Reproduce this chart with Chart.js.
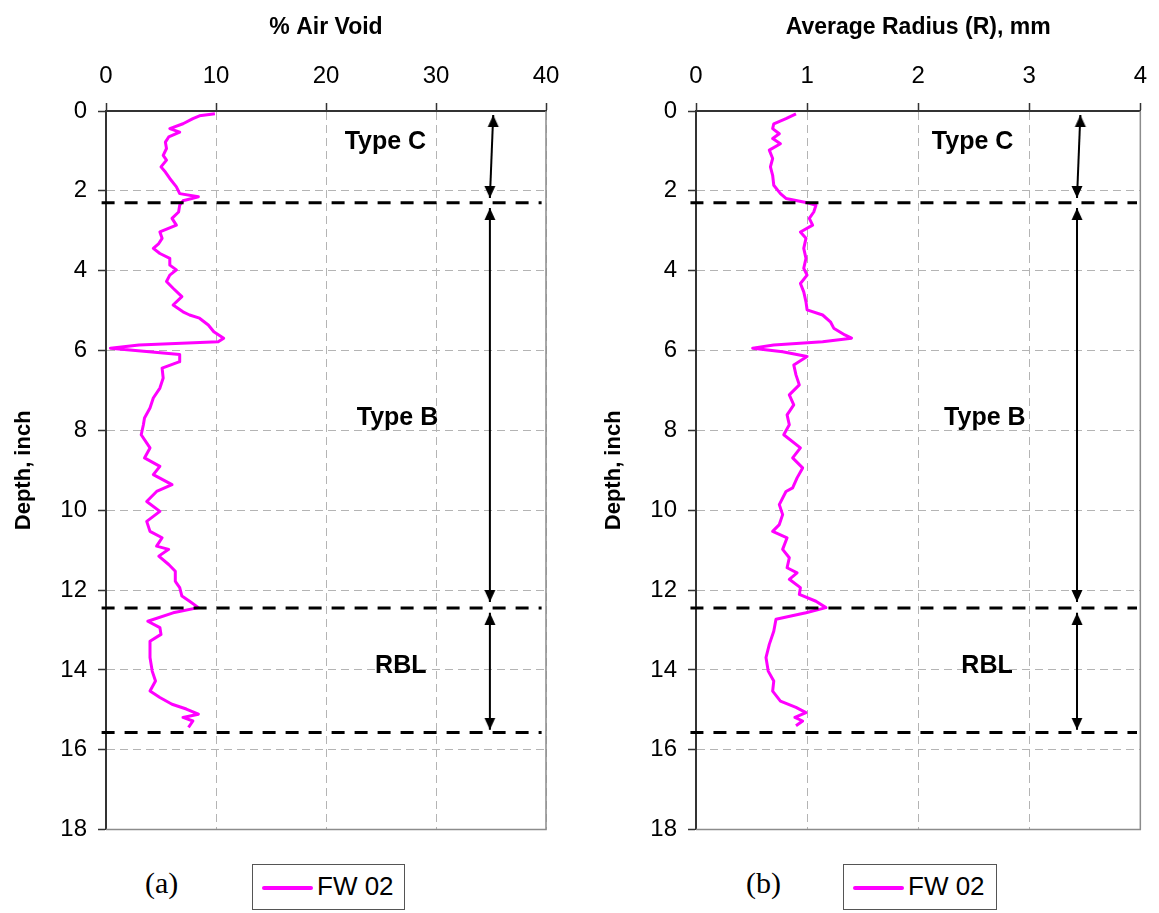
<!DOCTYPE html>
<html>
<head>
<meta charset="utf-8">
<script src="https://cdn.jsdelivr.net/npm/chart.js@4.4.0/dist/chart.umd.min.js"></script>
<style>
  body { margin: 0; width: 1159px; height: 913px; position: relative; background: #fff; overflow: hidden; }
  .panel { position: absolute; top: 0; }
  .caption { position: absolute; top: 866px; font-family: "Liberation Serif", "Times New Roman", serif; font-size: 30px; color: #000; }
  .legend { position: absolute; top: 864px; height: 46px; border: 1px solid #555; box-sizing: border-box;
            font-family: "Liberation Sans", Arial, sans-serif; font-size: 26px; color: #000; }
  .legend .swatch { position: absolute; left: 9px; top: 21px; width: 51px; height: 4px; background: #ff00ff; border-radius: 2px; }
  .legend .lbl { position: absolute; left: 64px; top: 6px; }
</style>
</head>
<body>
<div class="panel" style="left:0"><canvas id="chartA" width="580" height="855"></canvas></div>
<div class="panel" style="left:590px"><canvas id="chartB" width="569" height="855"></canvas></div>
<div class="caption" style="left:145px">(a)</div>
<div class="legend" style="left:252px; width:153px"><span class="swatch"></span><span class="lbl">FW 02</span></div>
<div class="caption" style="left:746px">(b)</div>
<div class="legend" style="left:843px; width:154px"><span class="swatch"></span><span class="lbl">FW 02</span></div>
<script>
// panel (a): % air void vs depth
var depthA = [0.07, 0.12, 0.19, 0.32, 0.44, 0.53, 0.65, 0.78, 0.94, 1.11, 1.23, 1.4, 1.53, 1.69, 1.9, 2.07, 2.15, 2.25, 2.36, 2.53,
    2.69, 2.86, 3.03, 3.19, 3.32, 3.44, 3.57, 3.69, 3.86, 3.98, 4.11, 4.27, 4.44, 4.65, 4.86, 5.03, 5.11, 5.19, 5.36, 5.53,
    5.69, 5.78, 5.86, 5.94, 6.1, 6.28, 6.44, 6.69, 6.94, 7.19, 7.44, 7.69, 7.86, 8.11, 8.44, 8.69, 8.9, 9.11, 9.36, 9.53,
    9.78, 10.03, 10.28, 10.53, 10.69, 10.9, 10.98, 11.15, 11.36, 11.53, 11.78, 11.94, 12.15, 12.28, 12.44, 12.57, 12.78, 12.94, 13.11, 13.28,
    13.69, 14.03, 14.28, 14.53, 14.69, 14.86, 14.98, 15.11, 15.19, 15.28, 15.44];
var airVoid = [9.9, 8.5, 7.9, 7.0, 5.8, 6.7, 5.7, 5.4, 5.5, 5.2, 5.5, 5.0, 5.4, 5.8, 6.4, 6.7, 8.4, 7.0, 6.7, 6.6,
    6.0, 6.4, 4.9, 5.1, 4.8, 4.3, 4.9, 5.8, 5.8, 6.4, 5.8, 5.5, 6.1, 6.9, 6.1, 7.0, 7.6, 8.5, 9.3, 9.8,
    10.7, 10.2, 3.0, 0.4, 6.7, 6.7, 5.1, 5.2, 4.9, 4.3, 4.0, 3.5, 3.4, 3.2, 4.0, 3.5, 4.9, 4.3, 6.0, 4.6,
    3.7, 4.9, 3.7, 4.0, 5.1, 4.6, 5.7, 4.8, 5.7, 6.3, 6.3, 6.7, 6.9, 7.6, 8.4, 6.1, 3.8, 4.9, 5.0, 4.0,
    4.0, 4.2, 4.5, 4.0, 4.9, 6.0, 7.3, 8.4, 7.0, 7.9, 7.5];

// panel (b): average radius vs depth
var depthB = [0.07, 0.19, 0.32, 0.44, 0.57, 0.69, 0.82, 0.98, 1.19, 1.4, 1.61, 1.86, 2.07, 2.19, 2.29, 2.36, 2.53, 2.69, 2.86, 3.03,
    3.19, 3.44, 3.69, 3.94, 4.11, 4.32, 4.53, 4.78, 4.98, 5.11, 5.28, 5.44, 5.61, 5.69, 5.78, 5.86, 5.94, 6.03, 6.15, 6.36,
    6.61, 6.86, 7.11, 7.36, 7.61, 7.86, 8.11, 8.44, 8.69, 8.94, 9.19, 9.44, 9.53, 9.86, 10.11, 10.36, 10.53, 10.69, 10.98, 11.19,
    11.44, 11.57, 11.73, 11.94, 12.11, 12.28, 12.44, 12.57, 12.73, 13.03, 13.36, 13.69, 14.03, 14.28, 14.53, 14.78, 14.94, 15.07, 15.19, 15.28,
    15.4];
var avgRadius = [0.90, 0.81, 0.70, 0.69, 0.75, 0.69, 0.76, 0.66, 0.69, 0.67, 0.69, 0.70, 0.76, 0.81, 0.99, 1.08, 1.06, 1.02, 1.05, 0.94,
    0.99, 0.97, 0.99, 0.97, 1.00, 0.94, 0.97, 0.99, 1.00, 1.14, 1.21, 1.24, 1.34, 1.40, 1.14, 0.70, 0.51, 0.78, 1.00, 0.88,
    0.90, 0.93, 0.84, 0.88, 0.82, 0.84, 0.79, 0.94, 0.87, 0.96, 0.91, 0.87, 0.81, 0.75, 0.78, 0.75, 0.69, 0.82, 0.78, 0.84,
    0.82, 0.91, 0.84, 0.94, 0.93, 1.08, 1.17, 0.99, 0.72, 0.70, 0.66, 0.63, 0.65, 0.70, 0.69, 0.76, 0.90, 0.99, 0.89, 0.96,
    0.90];

var seriesName = 'FW 02';
var ticksA = [0, 10, 20, 30, 40];
var ticksB = [0, 1, 2, 3, 4];
var depthTicks = [0, 2, 4, 6, 8, 10, 12, 14, 16, 18];

// layer boundaries and layer names
var layerBounds = [2.3, 12.45, 15.57];
var zoneNames = ['Type C', 'Type B', 'RBL'];
var zoneDepth = [0.78, 7.7, 13.9];
var zoneXA = [25.4, 26.5, 26.8];
var zoneXB = [2.49, 2.6, 2.62];
var boundSpanA = [-0.4, 39.6];
var boundSpanB = [-0.05, 3.97];
// arrows: [x at top, x at bottom], [top depth, bottom depth]
var arrowXA = [[35.2, 34.9], [34.9, 34.9], [34.9, 34.9]];
var arrowXB = [[3.46, 3.43], [3.43, 3.43], [3.43, 3.43]];
var arrowDepth = [[0.1, 2.18], [2.43, 12.3], [12.57, 15.5]];

var FONT = '"Liberation Sans", Arial, sans-serif';

function arrowHead() {
    var c = document.createElement('canvas');
    c.width = 24; c.height = 24;
    var g = c.getContext('2d');
    g.fillStyle = '#000';
    g.beginPath();
    g.moveTo(12, 12);
    g.lineTo(17.5, 24);
    g.lineTo(6.5, 24);
    g.closePath();
    g.fill();
    return c;
}
var head = arrowHead();

function pairs(xs, ys) {
    return xs.map(function(x, i) { return { x: x, y: ys[i] }; });
}

var zoneLabels = {
    id: 'zoneLabels',
    afterDatasetsDraw: function(chart, args, opts) {
        var ctx = chart.ctx, xs = chart.scales.x, ys = chart.scales.y;
        ctx.save();
        ctx.font = 'bold 25px ' + FONT;
        ctx.fillStyle = '#000';
        ctx.textAlign = 'center';
        ctx.textBaseline = 'middle';
        zoneNames.forEach(function(t, i) {
            ctx.fillText(t, xs.getPixelForValue(opts.xs[i]), ys.getPixelForValue(zoneDepth[i]));
        });
        // plot frame right / bottom edges
        var a = chart.chartArea;
        ctx.strokeStyle = '#8c8c8c';
        ctx.lineWidth = 1.5;
        ctx.beginPath();
        ctx.moveTo(a.right, a.top);
        ctx.lineTo(a.right, a.bottom);
        ctx.lineTo(a.left, a.bottom);
        ctx.stroke();
        ctx.restore();
    }
};

function makePanel(id, cfg) {
    var datasets = [{
        label: seriesName,
        data: pairs(cfg.values, cfg.depths),
        borderColor: '#ff00ff',
        borderWidth: 3,
        borderJoinStyle: 'round',
        pointRadius: 0,
        tension: 0,
        order: 2
    }];
    layerBounds.forEach(function(b) {
        datasets.push({
            data: [{ x: cfg.boundSpan[0], y: b }, { x: cfg.boundSpan[1], y: b }],
            borderColor: '#000',
            borderWidth: 3,
            borderDash: [13, 10],
            pointRadius: 0,
            clip: false,
            order: 1
        });
    });
    arrowDepth.forEach(function(d, i) {
        datasets.push({
            data: [{ x: cfg.arrowX[i][0], y: d[0] }, { x: cfg.arrowX[i][1], y: d[1] }],
            borderColor: '#000',
            borderWidth: 2,
            pointStyle: head,
            pointRadius: 6,
            pointRotation: [0, 180],
            clip: false,
            order: 0
        });
    });

    return new Chart(document.getElementById(id), {
        type: 'line',
        data: { datasets: datasets },
        plugins: [zoneLabels],
        options: {
            responsive: false,
            animation: false,
            events: [],
            layout: { padding: { left: 0, top: 0, right: cfg.padRight, bottom: 19 } },
            plugins: {
                legend: { display: false },
                tooltip: { enabled: false },
                zoneLabels: { xs: cfg.zoneX }
            },
            scales: {
                x: {
                    type: 'linear',
                    position: 'top',
                    min: cfg.ticks[0],
                    max: cfg.ticks[cfg.ticks.length - 1],
                    afterBuildTicks: function(s) { s.ticks = cfg.ticks.map(function(v) { return { value: v }; }); },
                    afterFit: function(s) { s.height = 111; },
                    ticks: { color: '#000', font: { family: FONT, size: 24 }, padding: 12, maxRotation: 0 },
                    grid: { color: '#b4b4b4', lineWidth: 1, tickColor: '#333', tickLength: 8, tickBorderDash: [1, 0], tickWidth: 1.5 },
                    border: { display: true, color: '#333', width: 2, dash: [8, 5] },
                    title: { display: true, text: cfg.title, color: '#000', font: { family: FONT, size: 23, weight: 'bold' }, padding: { top: 14, bottom: 0 } }
                },
                y: {
                    type: 'linear',
                    reverse: true,
                    min: 0,
                    max: 18,
                    afterBuildTicks: function(s) { s.ticks = depthTicks.map(function(v) { return { value: v }; }); },
                    afterFit: function(s) { s.width = 106; },
                    ticks: { color: '#000', font: { family: FONT, size: 24 }, padding: 11 },
                    grid: { color: '#b4b4b4', lineWidth: 1, tickColor: '#333', tickLength: 8, tickBorderDash: [1, 0], tickWidth: 1.5 },
                    border: { display: true, color: '#333', width: 2, dash: [8, 5] },
                    title: { display: true, text: 'Depth, inch', color: '#000', font: { family: FONT, size: 22, weight: 'bold' }, padding: { top: 11, bottom: 0 } }
                }
            }
        }
    });
}

makePanel('chartA', {
    values: airVoid, depths: depthA, ticks: ticksA, title: '% Air Void',
    boundSpan: boundSpanA, arrowX: arrowXA, zoneX: zoneXA, padRight: 34
});
makePanel('chartB', {
    values: avgRadius, depths: depthB, ticks: ticksB, title: 'Average Radius (R), mm',
    boundSpan: boundSpanB, arrowX: arrowXB, zoneX: zoneXB, padRight: 15
});
</script>
</body>
</html>
